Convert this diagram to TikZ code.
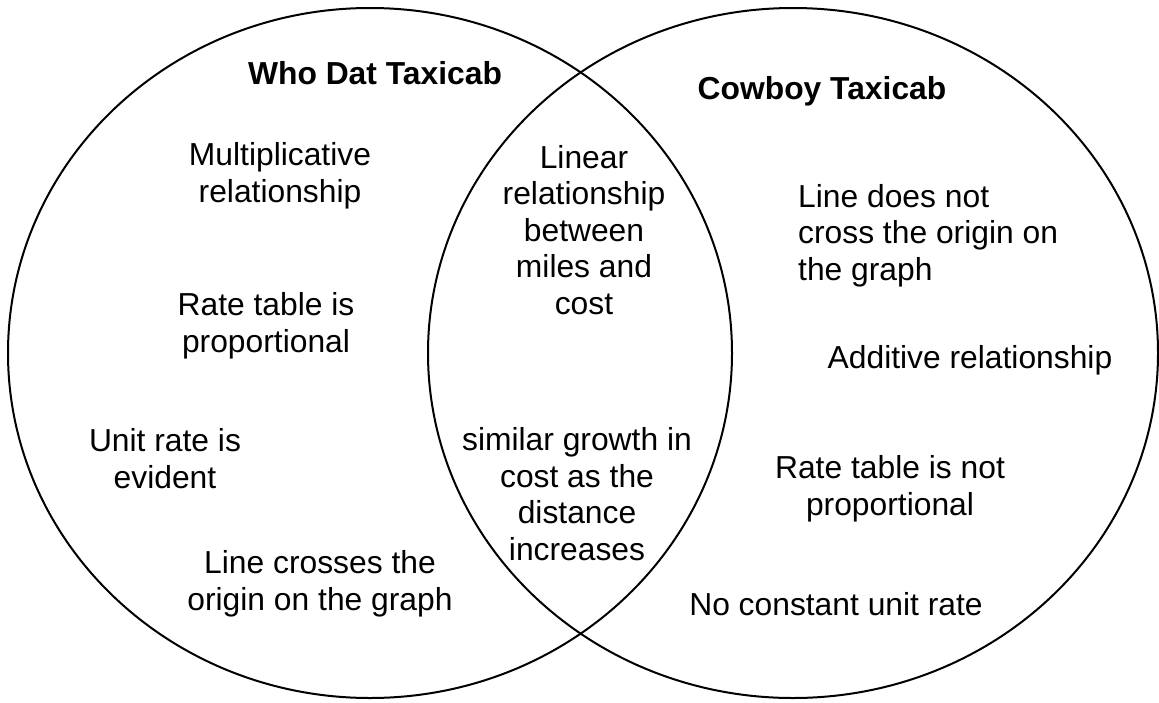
\documentclass[tikz,border=0pt]{standalone}
\usepackage{fontspec}
\setmainfont{Liberation Sans}
\begin{document}
\begin{tikzpicture}[x=1pt,y=-1pt,
  ring/.style={draw=black,line width=2pt},
  lbl/.style={inner sep=0pt,anchor=base,align=center,
    font=\fontsize{31.8}{36.5}\selectfont},
  title/.style={lbl,font=\fontsize{31.8}{36.5}\selectfont\bfseries}]
\useasboundingbox (0,0) rectangle (1159,702);
% the two sets
\draw[ring] (370,353) ellipse [x radius=362,y radius=345];
\draw[ring] (793,353) ellipse [x radius=365,y radius=345];
% set titles
\node[title] (whodat) at (375,84) {Who Dat Taxicab};
\node[title] (cowboy) at (822,99) {Cowboy Taxicab};
% left set only (positions give the baseline of each block's last line)
\node[lbl] (mult) at (280,202) {Multiplicative\\relationship};
\node[lbl] (rtprop) at (266,352) {Rate table is\\proportional};
\node[lbl] (unit) at (165,488) {Unit rate is\\evident};
\node[lbl] (origin) at (320,610) {Line crosses the\\origin on the graph};
% overlap
\node[lbl] (linear) at (584,314) {Linear\\relationship\\between\\miles and\\cost};
\node[lbl] (growth) at (577,560) {similar growth in\\cost as the\\distance\\increases};
% right set only
\node[lbl,anchor=base west,align=left] (noorigin) at (798,280) {Line does not\\cross the origin on\\the graph};
\node[lbl] (additive) at (970,368) {Additive relationship};
\node[lbl] (rtnot) at (890,515) {Rate table is not\\proportional};
\node[lbl] (nounit) at (836,615) {No constant unit rate};
\end{tikzpicture}
\end{document}
